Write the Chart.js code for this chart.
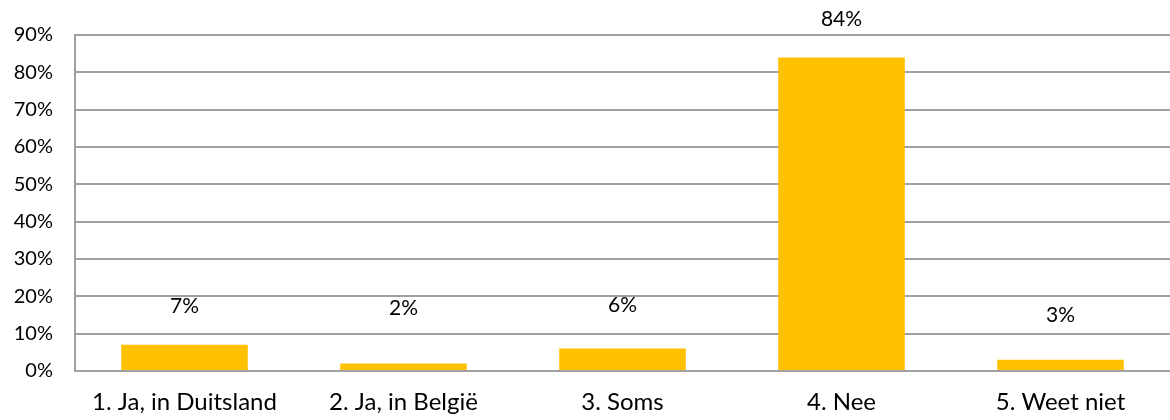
<!DOCTYPE html>
<html>
<head>
<meta charset="utf-8">
<script src="https://cdn.jsdelivr.net/npm/chart.js@4"></script>
<style>
html,body{margin:0;padding:0;background:#fff;overflow:hidden;}
#wrap{width:1170px;height:420px;}
</style>
</head>
<body>
<div id="wrap"><canvas id="c" width="1170" height="420"></canvas></div>
<script>
const categories = ["1. Ja, in Duitsland", "2. Ja, in België", "3. Soms", "4. Nee", "5. Weet niet"];
const values = [7, 2, 6, 84, 3];
const valueLabels = ["7%", "2%", "6%", "84%", "3%"];
const yTicks = [0, 10, 20, 30, 40, 50, 60, 70, 80, 90];

// label placement (value-space height where each data label is centred)
const labelAt = [17.3, 16.8, 17.6, 94.3, 15.0];

const FONT = "Lato, 'Open Sans', sans-serif";

const labelPlugin = {
  id: 'valLabels',
  afterDatasetsDraw(chart) {
    const ctx = chart.ctx;
    const meta = chart.getDatasetMeta(0);
    const ys = chart.scales.y;
    ctx.save();
    ctx.font = "21px " + FONT;
    ctx.fillStyle = "#000";
    ctx.textAlign = "center";
    ctx.textBaseline = "middle";
    meta.data.forEach((bar, i) => {
      ctx.fillText(valueLabels[i], bar.x, ys.getPixelForValue(labelAt[i]));
    });
    ctx.restore();
  }
};

new Chart(document.getElementById('c'), {
  type: 'bar',
  data: {
    labels: categories,
    datasets: [{
      data: values,
      backgroundColor: '#FFC000',
      borderWidth: 0,
      categoryPercentage: 1.0,
      barPercentage: 0.578
    }]
  },
  options: {
    responsive: false,
    animation: false,
    events: [],
    layout: { padding: { top: 35, right: -6, bottom: 0, left: 0 } },
    plugins: { legend: { display: false }, tooltip: { enabled: false } },
    scales: {
      x: {
        grid: { display: false, drawTicks: false },
        border: { display: true, color: '#a0a0a0', width: 2 },
        ticks: { color: '#000', font: { family: FONT, size: 24 }, padding: 17, maxRotation: 0, autoSkip: false },
        afterFit(s) { s.height = 49; }
      },
      y: {
        min: 0, max: 90,
        afterBuildTicks(s) { s.ticks = yTicks.map(v => ({ value: v })); },
        grid: { color: '#a0a0a0', lineWidth: 2, drawTicks: false },
        border: { display: true, color: '#a0a0a0', width: 2 },
        ticks: { color: '#000', font: { family: FONT, size: 20 }, padding: 22, callback: v => v + '%' },
        afterFit(s) { s.width = 75; }
      }
    }
  },
  plugins: [labelPlugin]
});
</script>
</body>
</html>
